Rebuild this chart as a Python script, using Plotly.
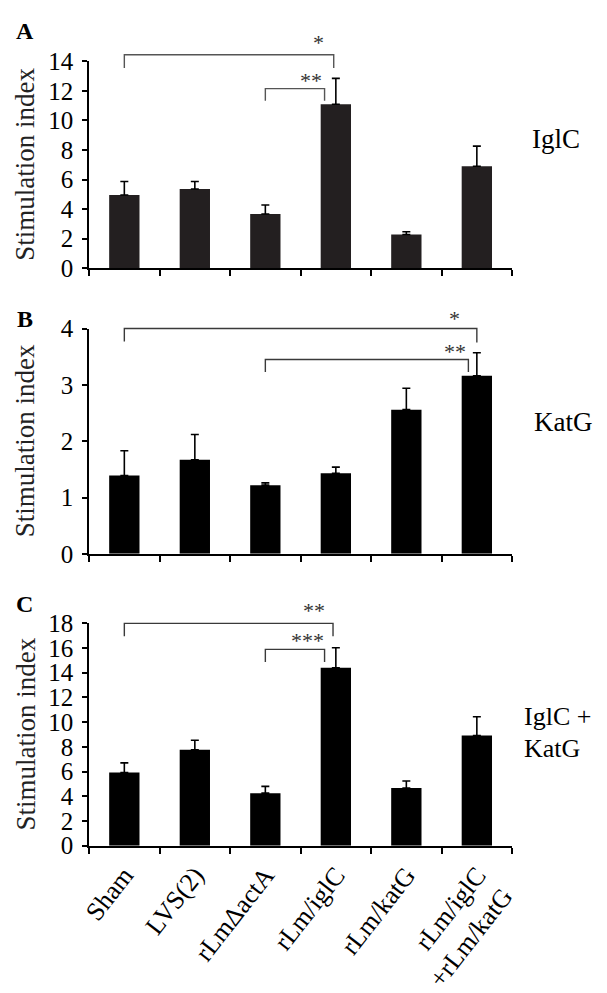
import plotly.graph_objects as go

categories = ["Sham", "LVS(2)", "rLmΔactA", "rLm/iglC", "rLm/katG", "rLm/iglC<br>+rLm/katG"]

iglc_values = [4.95, 5.36, 3.66, 11.1, 2.28, 6.9]
iglc_errors = [0.92, 0.51, 0.61, 1.75, 0.18, 1.36]

katg_values = [1.39, 1.67, 1.22, 1.43, 2.56, 3.16]
katg_errors = [0.44, 0.45, 0.04, 0.11, 0.38, 0.41]

combo_values = [5.92, 7.77, 4.25, 14.4, 4.67, 8.92]
combo_errors = [0.78, 0.76, 0.55, 1.62, 0.57, 1.52]

panel_letters = ["A", "B", "C"]
panel_names = ["IglC", "KatG", "IglC +<br>KatG"]
y_ranges = [[0, 14], [0, 4], [0, 18]]
y_dticks = [2, 1, 2]

# brackets: (x_left, x_right, y_top, y_drop_left, y_drop_right)
brackets = [
    [(0, 2.97, 14.45, 13.55, 13.55), (2, 2.84, 12.16, 11.34, 11.34)],
    [(0, 5.0, 4.0, 3.77, 3.75), (2, 4.88, 3.45, 3.23, 3.23)],
    [(0, 2.96, 18.0, 16.96, 16.96), (2, 2.84, 15.89, 14.87, 14.87)],
]
# significance marks: (text, x, y)
stars = [
    [("*", 2.76, 15.25), ("**", 2.65, 12.7)],
    [("*", 4.69, 4.18), ("**", 4.69, 3.59)],
    [("**", 2.69, 19.0), ("***", 2.60, 16.6)],
]

W, H = 607, 993
x_dom = [83 / W, 516 / W]
# panel pixel extents (top, bottom)
panel_px = [(50, 263.3), (325.7, 558.3), (630, 859.5)]
y_doms = [[(H - b) / H, (H - t) / H] for t, b in panel_px]

serif = "Liberation Serif"
bar_colors = ["#231f20", "#000000", "#000000"]
bracket_colors = ["#555555", "#3a3a3a", "#3a3a3a"]

fig = go.Figure()
series = [(iglc_values, iglc_errors), (katg_values, katg_errors), (combo_values, combo_errors)]

for i, (vals, errs) in enumerate(series):
    xa = "x" if i == 0 else f"x{i+1}"
    ya = "y" if i == 0 else f"y{i+1}"
    fig.add_trace(go.Bar(
        x=categories, y=vals, xaxis=xa, yaxis=ya, width=0.43,
        marker=dict(color=bar_colors[i], line=dict(width=0)),
        error_y=dict(type="data", array=errs, arrayminus=[0] * len(errs), symmetric=False,
                     color="#000000", thickness=1.6, width=4),
        showlegend=False,
    ))

layout = dict(
    width=W, height=H, margin=dict(l=0, r=0, t=0, b=0),
    paper_bgcolor="white", plot_bgcolor="white",
    font=dict(family=serif, color="black"),
)

for i in range(3):
    xk = "xaxis" if i == 0 else f"xaxis{i+1}"
    yk = "yaxis" if i == 0 else f"yaxis{i+1}"
    ya_id = "y" if i == 0 else f"y{i+1}"
    xa_id = "x" if i == 0 else f"x{i+1}"
    layout[xk] = dict(
        domain=x_dom, anchor=ya_id, type="category", tickson="boundaries",
        range=[-0.5, 5.5], showline=True, linecolor="black", linewidth=1.8,
        ticks="outside", ticklen=6, tickwidth=1.6, tickcolor="black",
        showgrid=False, zeroline=False, showticklabels=(i == 2),
        tickangle=-52, tickfont=dict(family=serif, size=26, color="black"),
        ticklabelstandoff=2,
    )
    layout[yk] = dict(
        domain=y_doms[i], anchor=xa_id, range=y_ranges[i], dtick=y_dticks[i],
        showline=True, linecolor="black", linewidth=1.8,
        ticks="outside", ticklen=5, tickwidth=1.6, tickcolor="black",
        showgrid=False, zeroline=False, ticklabelstandoff=4,
        tickfont=dict(family=serif, size=25, color="black"),
    )

fig.update_layout(**layout)


def to_paper(val, i):
    r0, r1 = y_ranges[i]
    d0, d1 = y_doms[i]
    return d0 + (val - r0) / (r1 - r0) * (d1 - d0)


for i in range(3):
    xa_id = "x" if i == 0 else f"x{i+1}"
    for (xl, xr, yt, ydl, ydr) in brackets[i]:
        path = (f"M {xl},{to_paper(ydl, i)} L {xl},{to_paper(yt, i)} "
                f"L {xr},{to_paper(yt, i)} L {xr},{to_paper(ydr, i)}")
        fig.add_shape(type="path", path=path, xref=xa_id, yref="paper",
                      line=dict(color=bracket_colors[i], width=1.4))
    for (txt, sx, sy) in stars[i]:
        fig.add_annotation(text=txt, x=sx, y=to_paper(sy, i), xref=xa_id, yref="paper",
                           showarrow=False, xanchor="center", yanchor="middle",
                           font=dict(family=serif, size=22, color="#333333"))
    yc = (y_doms[i][0] + y_doms[i][1]) / 2
    fig.add_annotation(text="Stimulation index", x=17.5 / W, y=yc, xref="paper", yref="paper",
                       textangle=-90, showarrow=False, xanchor="center", yanchor="middle",
                       font=dict(family=serif, size=27, color="#222222"))

# panel letters
letter_y = [19, 316, 610]
for i, lt in enumerate(panel_letters):
    fig.add_annotation(text=f"<b>{lt}</b>", x=17 / W, y=(H - letter_y[i]) / H, xref="paper", yref="paper",
                       showarrow=False, xanchor="center", yanchor="middle",
                       font=dict(family=serif, size=24, color="black"))

# panel names on the right
fig.add_annotation(text=panel_names[0], x=534 / W, y=(H - 130) / H, xref="paper", yref="paper",
                   showarrow=False, xanchor="left", yanchor="middle",
                   font=dict(family=serif, size=27, color="black"))
fig.add_annotation(text=panel_names[1], x=536 / W, y=(H - 422) / H, xref="paper", yref="paper",
                   showarrow=False, xanchor="left", yanchor="middle",
                   font=dict(family=serif, size=27, color="black"))
name_lines = panel_names[2].split("<br>")
for j, (line, py) in enumerate(zip(name_lines, [726, 759])):
    fig.add_annotation(text=line, x=526 / W, y=(H - py) / H, xref="paper", yref="paper",
                       showarrow=False, xanchor="left", yanchor="middle",
                       font=dict(family=serif, size=26, color="black"))

fig.write_html("out.html", config={"displayModeBar": False},
               post_script="document.body.style.margin='0px';")
